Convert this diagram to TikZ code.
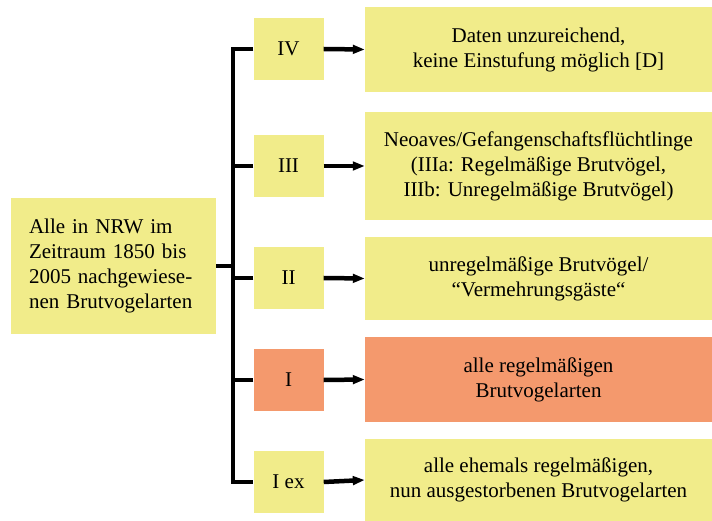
\documentclass[tikz,border=0pt]{standalone}
\usepackage{fontspec}
\setmainfont{Liberation Serif}
\usetikzlibrary{arrows.meta}
\definecolor{gelb}{HTML}{F1EC8A}
\definecolor{lachs}{HTML}{F4996D}

\begin{document}
\begin{tikzpicture}[x=1pt,y=-1pt]
        \tikzset{box/.style={fill=gelb, inner sep=0pt, align=center,
                 font=\fontsize{21}{25}\selectfont}}
        \tikzset{stufe/.style={box, minimum width=70pt, minimum height=62pt}}
        \tikzset{text box/.style={box, minimum width=347pt}}
        \tikzset{ast/.style={line width=4pt, line join=miter}}
        \tikzset{pfeil/.style={line width=4.5pt, -{Triangle[length=12pt,width=8.5pt]}}}
        \useasboundingbox (0,0) rectangle (712,521);
        % Ausgangsmenge
        \node[box, minimum height=136pt, inner xsep=18pt, text width=169pt, align=left]
             (alle) at (113.5,266) {Alle in NRW im\\Zeitraum 1850 bis\\2005 nachgewiese-\\nen Brutvogelarten};
        % Stufen
        \node[stufe] (IV)  at (288.5,49)  {IV};
        \node[stufe] (III) at (288.5,166) {III};
        \node[stufe] (II)  at (288.5,278) {II};
        \node[stufe, fill=lachs] (I) at (288.5,380) {I};
        \node[stufe] (Iex) at (288.5,482) {I ex};
        % Beschreibungen
        \node[text box, minimum height=85pt]  (dIV)  at (538.5,49.5)
             {Daten unzureichend,\\keine Einstufung möglich [D]};
        \node[text box, minimum height=108pt] (dIII) at (538.5,166)
             {Neoaves/Gefangenschaftsflüchtlinge\\(IIIa: Regelmäßige Brutvögel,\\IIIb: Unregelmäßige Brutvögel)};
        \node[text box, minimum height=83pt]  (dII)  at (538.5,278.5)
             {unregelmäßige Brutvögel/\\“Vermehrungsgäste“};
        \node[text box, minimum height=85pt, fill=lachs] (dI) at (538.5,379.5)
             {alle regelmäßigen\\Brutvogelarten};
        \node[text box, minimum height=82pt]  (dIex) at (538.5,480)
             {alle ehemals regelmäßigen,\\nun ausgestorbenen Brutvogelarten};
        % Stamm
        \coordinate (oben)  at (233,49);
        \coordinate (unten) at (233,482);
        \draw[ast] (alle.east) -- (alle.east -| oben);
        \draw[ast] (IV.west) -- (oben) -- (unten) -- (Iex.west);
        \foreach \s in {III,II,I}
                \draw[ast] (\s.west) -- (\s.west -| oben);
        \foreach \s in {IV,III,II,I,Iex}
                \draw[pfeil] (\s.east) -- (d\s.west);
\end{tikzpicture}
\end{document}
